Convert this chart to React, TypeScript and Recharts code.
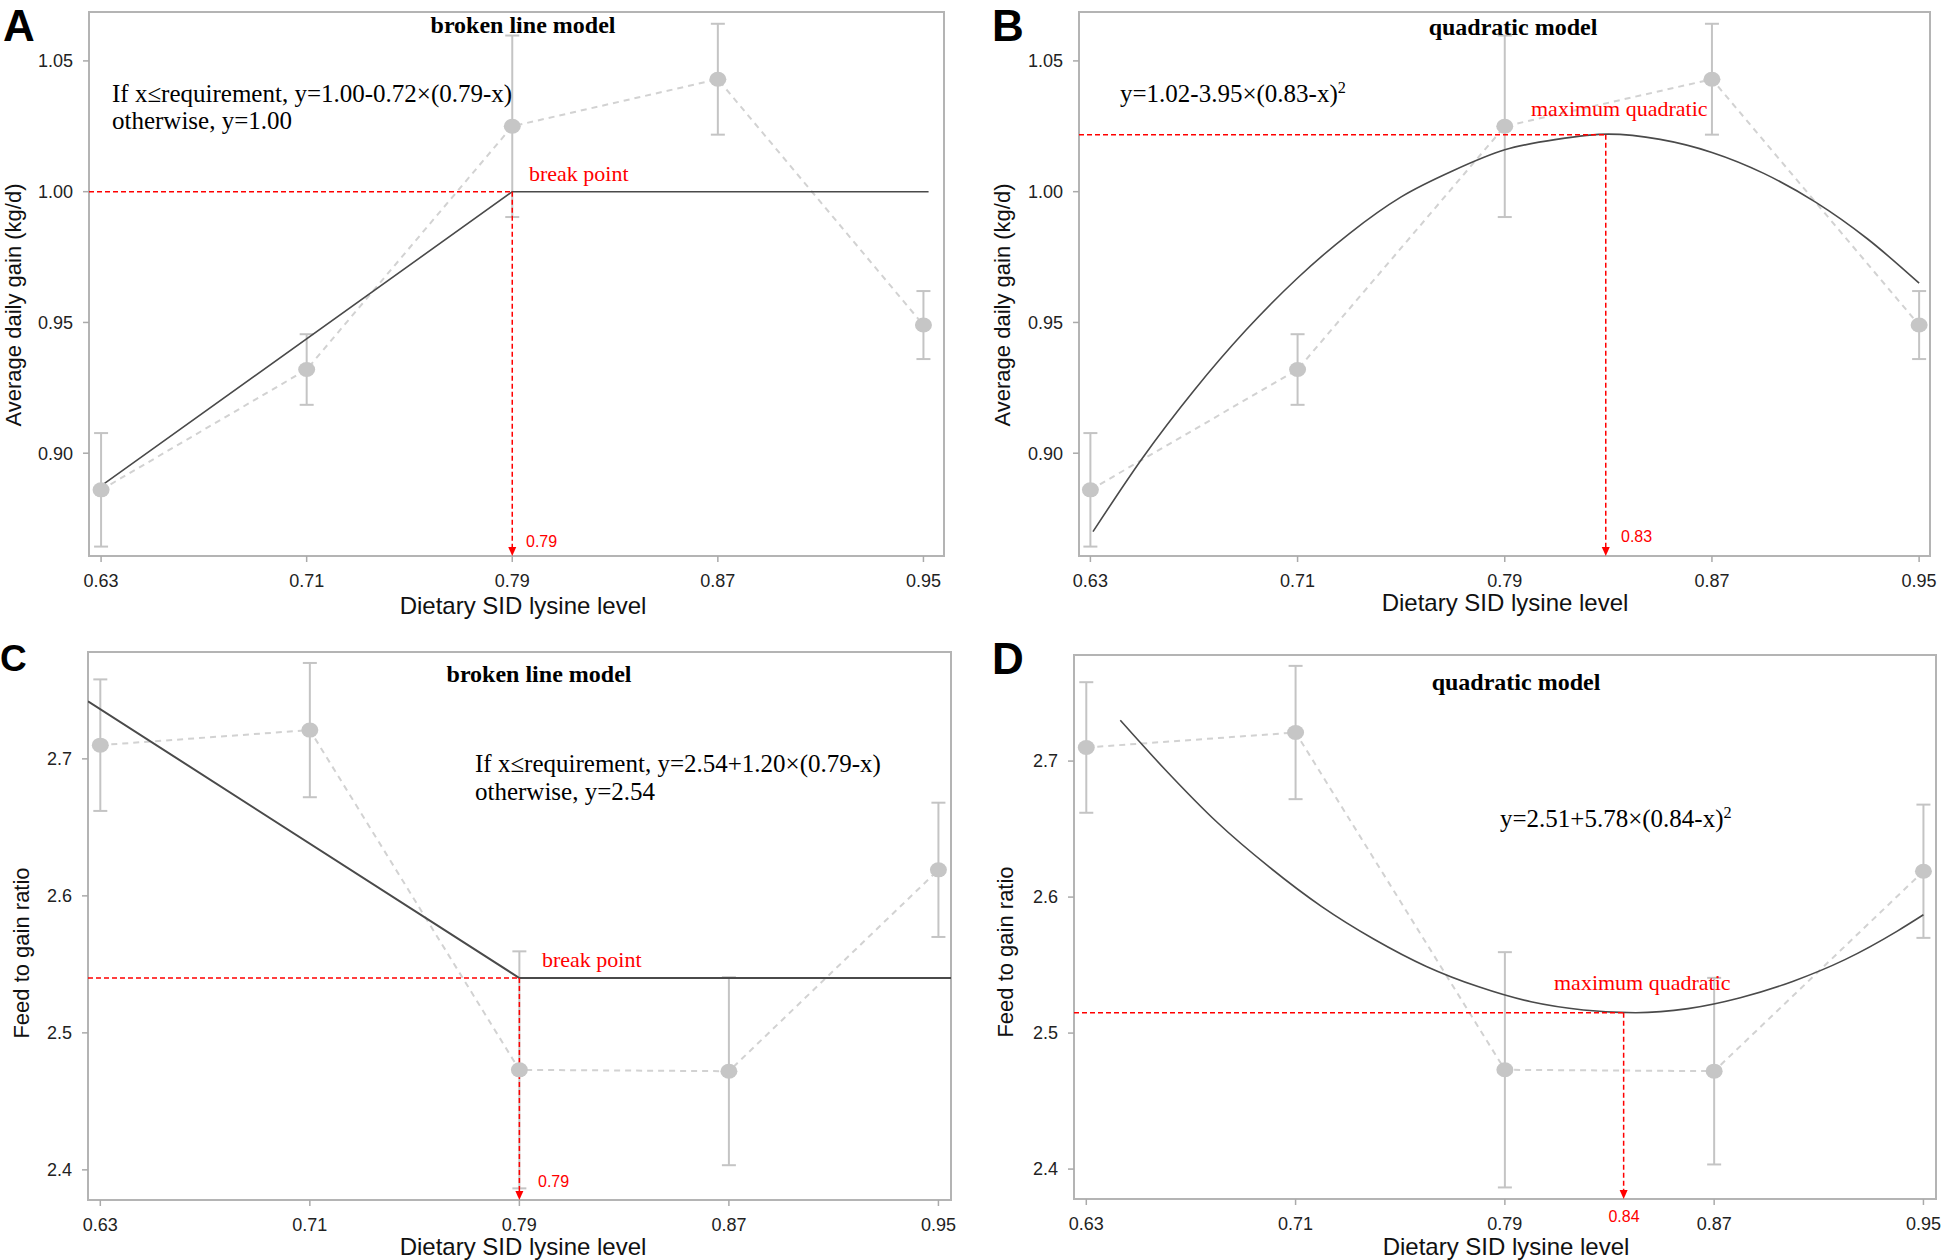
import React from "react";
import { ComposedChart, Line, XAxis, YAxis, ErrorBar, ReferenceLine, ReferenceArea } from "recharts";

// dietary SID lysine levels (x)
const lysineLevels = [0.63, 0.71, 0.79, 0.87, 0.95];

// average daily gain, kg/d (means and error half-widths)
const adgMeans = [0.886, 0.932, 1.025, 1.043, 0.949];
const adgSem = [0.0217, 0.0135, 0.0347, 0.0212, 0.013];

// feed to gain ratio
const fgMeans = [2.71, 2.721, 2.473, 2.472, 2.619];
const fgSem = [0.048, 0.049, 0.0865, 0.0686, 0.049];

const adgTicks = [0.9, 0.95, 1.0, 1.05];
const fgTicks = [2.4, 2.5, 2.6, 2.7];

// broken line fits
const adgBrokenX = [0.63, 0.79, 0.952];
const adgBrokenY = [0.8875, 1.0, 1.0];
const fgBrokenX = [0.6253, 0.79, 0.9548];
const fgBrokenY = [2.742, 2.54, 2.54];

// quadratic fits
const adgQuadX = [0.631, 0.65, 0.67, 0.69, 0.71, 0.73, 0.75, 0.77, 0.79, 0.81, 0.83, 0.85, 0.87, 0.89, 0.91, 0.93, 0.95];
const adgQuadY = [0.870, 0.898, 0.924, 0.947, 0.967, 0.984, 0.998, 1.008, 1.016, 1.020, 1.022, 1.020, 1.015, 1.007, 0.996, 0.982, 0.965];
const fgQuadX = [0.643, 0.66, 0.68, 0.70, 0.72, 0.74, 0.76, 0.78, 0.80, 0.82, 0.84, 0.86, 0.88, 0.90, 0.92, 0.94, 0.95];
const fgQuadY = [2.730, 2.694, 2.655, 2.622, 2.593, 2.569, 2.549, 2.534, 2.523, 2.517, 2.515, 2.518, 2.526, 2.538, 2.554, 2.575, 2.587];

// requirement estimates (x, y)
const adgBreak = [0.79, 1.0];
const adgOptimum = [0.829, 1.0218];
const fgBreak = [0.79, 2.54];
const fgOptimum = [0.8354, 2.515];

const SANS = "'Liberation Sans', Arial, sans-serif";
const SERIF = "'Liberation Serif', 'Times New Roman', serif";
const RED = "#ff0000";

const obsRows = (means: number[], sem: number[]) =>
  lysineLevels.map((x, i) => ({ x, m: means[i], e: sem[i] }));
const pairs = (xs: number[], ys: number[]) => xs.map((x, i) => ({ x, y: ys[i] }));

const MeanDot = (p: any) => {
  if (p.cx == null || p.cy == null) return <g />;
  return <ellipse cx={p.cx} cy={p.cy} rx={8.5} ry={7.5} fill="#c6c6c6" />;
};

const ArrowDown = (p: any) => {
  const { x1, y1, x2, y2 } = p;
  return (
    <g>
      <line x1={x1} y1={y1} x2={x2} y2={y2 - 7} stroke={RED} strokeWidth={1.5} strokeDasharray="5 3" />
      <polygon points={`${x2 - 4},${y2 - 9} ${x2 + 4},${y2 - 9} ${x2},${y2}`} fill={RED} />
    </g>
  );
};

function Panel(props: any) {
  const { left, top, width, height, margin, yAxisWidth, xAxisHeight, xDomain, yDomain, yTicks, yDigits, obs, fit, fitType, opt, fitWidth } = props;
  return (
    <div style={{ position: "absolute", left, top, width, height }}>
      <ComposedChart width={width} height={height} margin={margin}>
        <XAxis
          type="number"
          dataKey="x"
          domain={xDomain}
          allowDataOverflow
          ticks={lysineLevels}
          tickFormatter={(v: number) => v.toFixed(2)}
          axisLine={false}
          tickSize={6}
          tickMargin={12}
          tickLine={{ stroke: "#aaaaaa", strokeWidth: 1.5 }}
          tick={{ fill: "#222", fontSize: 18, fontFamily: SANS }}
          height={xAxisHeight}
        />
        <YAxis
          type="number"
          domain={yDomain}
          allowDataOverflow
          ticks={yTicks}
          tickFormatter={(v: number) => v.toFixed(yDigits)}
          axisLine={false}
          tickSize={6}
          tickMargin={10}
          tickLine={{ stroke: "#aaaaaa", strokeWidth: 1.5 }}
          tick={{ fill: "#222", fontSize: 18, fontFamily: SANS }}
          width={yAxisWidth}
        />
        <ReferenceArea
          x1={xDomain[0]}
          x2={xDomain[1]}
          y1={yDomain[0]}
          y2={yDomain[1]}
          fill="none"
          fillOpacity={0}
          stroke="#b4b4b4"
          strokeWidth={2}
          ifOverflow="visible"
        />
        <Line
          data={obs}
          dataKey="m"
          type="linear"
          stroke="#d2d2d2"
          strokeWidth={2}
          strokeDasharray="6 5"
          dot={<MeanDot />}
          activeDot={false}
          isAnimationActive={false}
        >
          <ErrorBar dataKey="e" direction="y" width={7} stroke="#c4c4c4" strokeWidth={2} isAnimationActive={false} />
        </Line>
        <Line
          data={fit}
          dataKey="y"
          type={fitType}
          stroke="#4a4a4a"
          strokeWidth={fitWidth}
          dot={false}
          activeDot={false}
          isAnimationActive={false}
        />
        <ReferenceLine
          segment={[{ x: xDomain[0], y: opt[1] }, { x: opt[0], y: opt[1] }]}
          stroke={RED}
          strokeWidth={1.5}
          strokeDasharray="5 3"
          ifOverflow="visible"
        />
        <ReferenceLine
          segment={[{ x: opt[0], y: opt[1] }, { x: opt[0], y: yDomain[0] }]}
          shape={ArrowDown}
          ifOverflow="visible"
        />
      </ComposedChart>
    </div>
  );
}

const Txt = ({ x, y, children, style, anchor = "start" }: any) => (
  <div
    style={{
      position: "absolute",
      left: x,
      top: y,
      whiteSpace: "nowrap",
      lineHeight: 1,
      transform: anchor === "middle" ? "translate(-50%, -50%)" : "translateY(-50%)",
      ...style,
    }}
  >
    {children}
  </div>
);

const VTxt = ({ x, y, children }: any) => (
  <div
    style={{
      position: "absolute",
      left: x,
      top: y,
      whiteSpace: "nowrap",
      lineHeight: 1,
      fontFamily: SANS,
      fontSize: 22,
      color: "#111",
      transform: "translate(-50%, -50%) rotate(-90deg)",
    }}
  >
    {children}
  </div>
);

const Letter = ({ x, y, size = 44, children }: any) => (
  <div
    style={{
      position: "absolute",
      left: x,
      top: y,
      lineHeight: 1.12,
      fontFamily: SANS,
      fontWeight: 700,
      fontSize: size,
      color: "#000",
    }}
  >
    {children}
  </div>
);

const title = { fontFamily: SERIF, fontWeight: 700, fontSize: 24, color: "#000" };
const eq = { fontFamily: SERIF, fontSize: 25, color: "#000" };
const redSerif = { fontFamily: SERIF, fontSize: 22, color: RED };
const redNum = { fontFamily: SANS, fontSize: 16, color: RED };
const xTitle = { fontFamily: SANS, fontSize: 24, color: "#111" };
const sup = { fontSize: "0.65em", position: "relative" as const, top: "-0.55em" };

export default function App() {
  const adgObs = obsRows(adgMeans, adgSem);
  const fgObs = obsRows(fgMeans, fgSem);
  return (
    <div style={{ position: "absolute", left: 0, top: 0, width: 1944, height: 1260, background: "#fff", overflow: "hidden" }}>
      <Panel
        left={0} top={0} width={960} height={620}
        margin={{ top: 12, right: 16, bottom: 0, left: 0 }}
        yAxisWidth={89} xAxisHeight={64}
        xDomain={[0.6253, 0.958]} yDomain={[0.8607, 1.0687]}
        yTicks={adgTicks} yDigits={2}
        obs={adgObs} fit={pairs(adgBrokenX, adgBrokenY)} fitType="linear" fitWidth={1.6}
        opt={adgBreak}
      />
      <Panel
        left={980} top={0} width={960} height={620}
        margin={{ top: 12, right: 10, bottom: 0, left: 0 }}
        yAxisWidth={99} xAxisHeight={64}
        xDomain={[0.6256, 0.9542]} yDomain={[0.8607, 1.0687]}
        yTicks={adgTicks} yDigits={2}
        obs={adgObs} fit={pairs(adgQuadX, adgQuadY)} fitType="monotone" fitWidth={1.6}
        opt={adgOptimum}
      />
      <Panel
        left={0} top={630} width={970} height={630}
        margin={{ top: 22, right: 19, bottom: 0, left: 0 }}
        yAxisWidth={88} xAxisHeight={60}
        xDomain={[0.6253, 0.9548]} yDomain={[2.378, 2.778]}
        yTicks={fgTicks} yDigits={1}
        obs={fgObs} fit={pairs(fgBrokenX, fgBrokenY)} fitType="linear" fitWidth={2}
        opt={fgBreak}
      />
      <Panel
        left={980} top={630} width={964} height={630}
        margin={{ top: 25, right: 8, bottom: 0, left: 0 }}
        yAxisWidth={94} xAxisHeight={61}
        xDomain={[0.6253, 0.9548]} yDomain={[2.378, 2.778]}
        yTicks={fgTicks} yDigits={1}
        obs={fgObs} fit={pairs(fgQuadX, fgQuadY)} fitType="monotone" fitWidth={1.6}
        opt={fgOptimum}
      />

      {/* panel A */}
      <Letter x={3} y={1}>A</Letter>
      <Txt x={523} y={25} anchor="middle" style={title}>broken line model</Txt>
      <Txt x={112} y={93} style={eq}>If x≤requirement, y=1.00-0.72×(0.79-x)</Txt>
      <Txt x={112} y={120} style={eq}>otherwise, y=1.00</Txt>
      <Txt x={529} y={174} style={redSerif}>break point</Txt>
      <Txt x={526} y={542} style={redNum}>0.79</Txt>
      <VTxt x={14} y={305}>Average daily gain (kg/d)</VTxt>
      <Txt x={523} y={606} anchor="middle" style={xTitle}>Dietary SID lysine level</Txt>

      {/* panel B */}
      <Letter x={992} y={1}>B</Letter>
      <Txt x={1513} y={27} anchor="middle" style={title}>quadratic model</Txt>
      <Txt x={1120} y={93} style={eq}>y=1.02-3.95×(0.83-x)<span style={sup}>2</span></Txt>
      <Txt x={1531} y={109} style={redSerif}>maximum quadratic</Txt>
      <Txt x={1621} y={537} style={redNum}>0.83</Txt>
      <VTxt x={1003} y={305}>Average daily gain (kg/d)</VTxt>
      <Txt x={1505} y={603} anchor="middle" style={xTitle}>Dietary SID lysine level</Txt>

      {/* panel C */}
      <Letter x={0} y={638} size={37}>C</Letter>
      <Txt x={539} y={674} anchor="middle" style={title}>broken line model</Txt>
      <Txt x={475} y={763} style={eq}>If x≤requirement, y=2.54+1.20×(0.79-x)</Txt>
      <Txt x={475} y={791} style={eq}>otherwise, y=2.54</Txt>
      <Txt x={542} y={960} style={redSerif}>break point</Txt>
      <Txt x={538} y={1182} style={redNum}>0.79</Txt>
      <VTxt x={22} y={953}>Feed to gain ratio</VTxt>
      <Txt x={523} y={1247} anchor="middle" style={xTitle}>Dietary SID lysine level</Txt>

      {/* panel D */}
      <Letter x={992} y={634}>D</Letter>
      <Txt x={1516} y={682} anchor="middle" style={title}>quadratic model</Txt>
      <Txt x={1500} y={818} style={eq}>y=2.51+5.78×(0.84-x)<span style={sup}>2</span></Txt>
      <Txt x={1554} y={983} style={redSerif}>maximum quadratic</Txt>
      <Txt x={1624} y={1217} anchor="middle" style={redNum}>0.84</Txt>
      <VTxt x={1006} y={952}>Feed to gain ratio</VTxt>
      <Txt x={1506} y={1247} anchor="middle" style={xTitle}>Dietary SID lysine level</Txt>
    </div>
  );
}
